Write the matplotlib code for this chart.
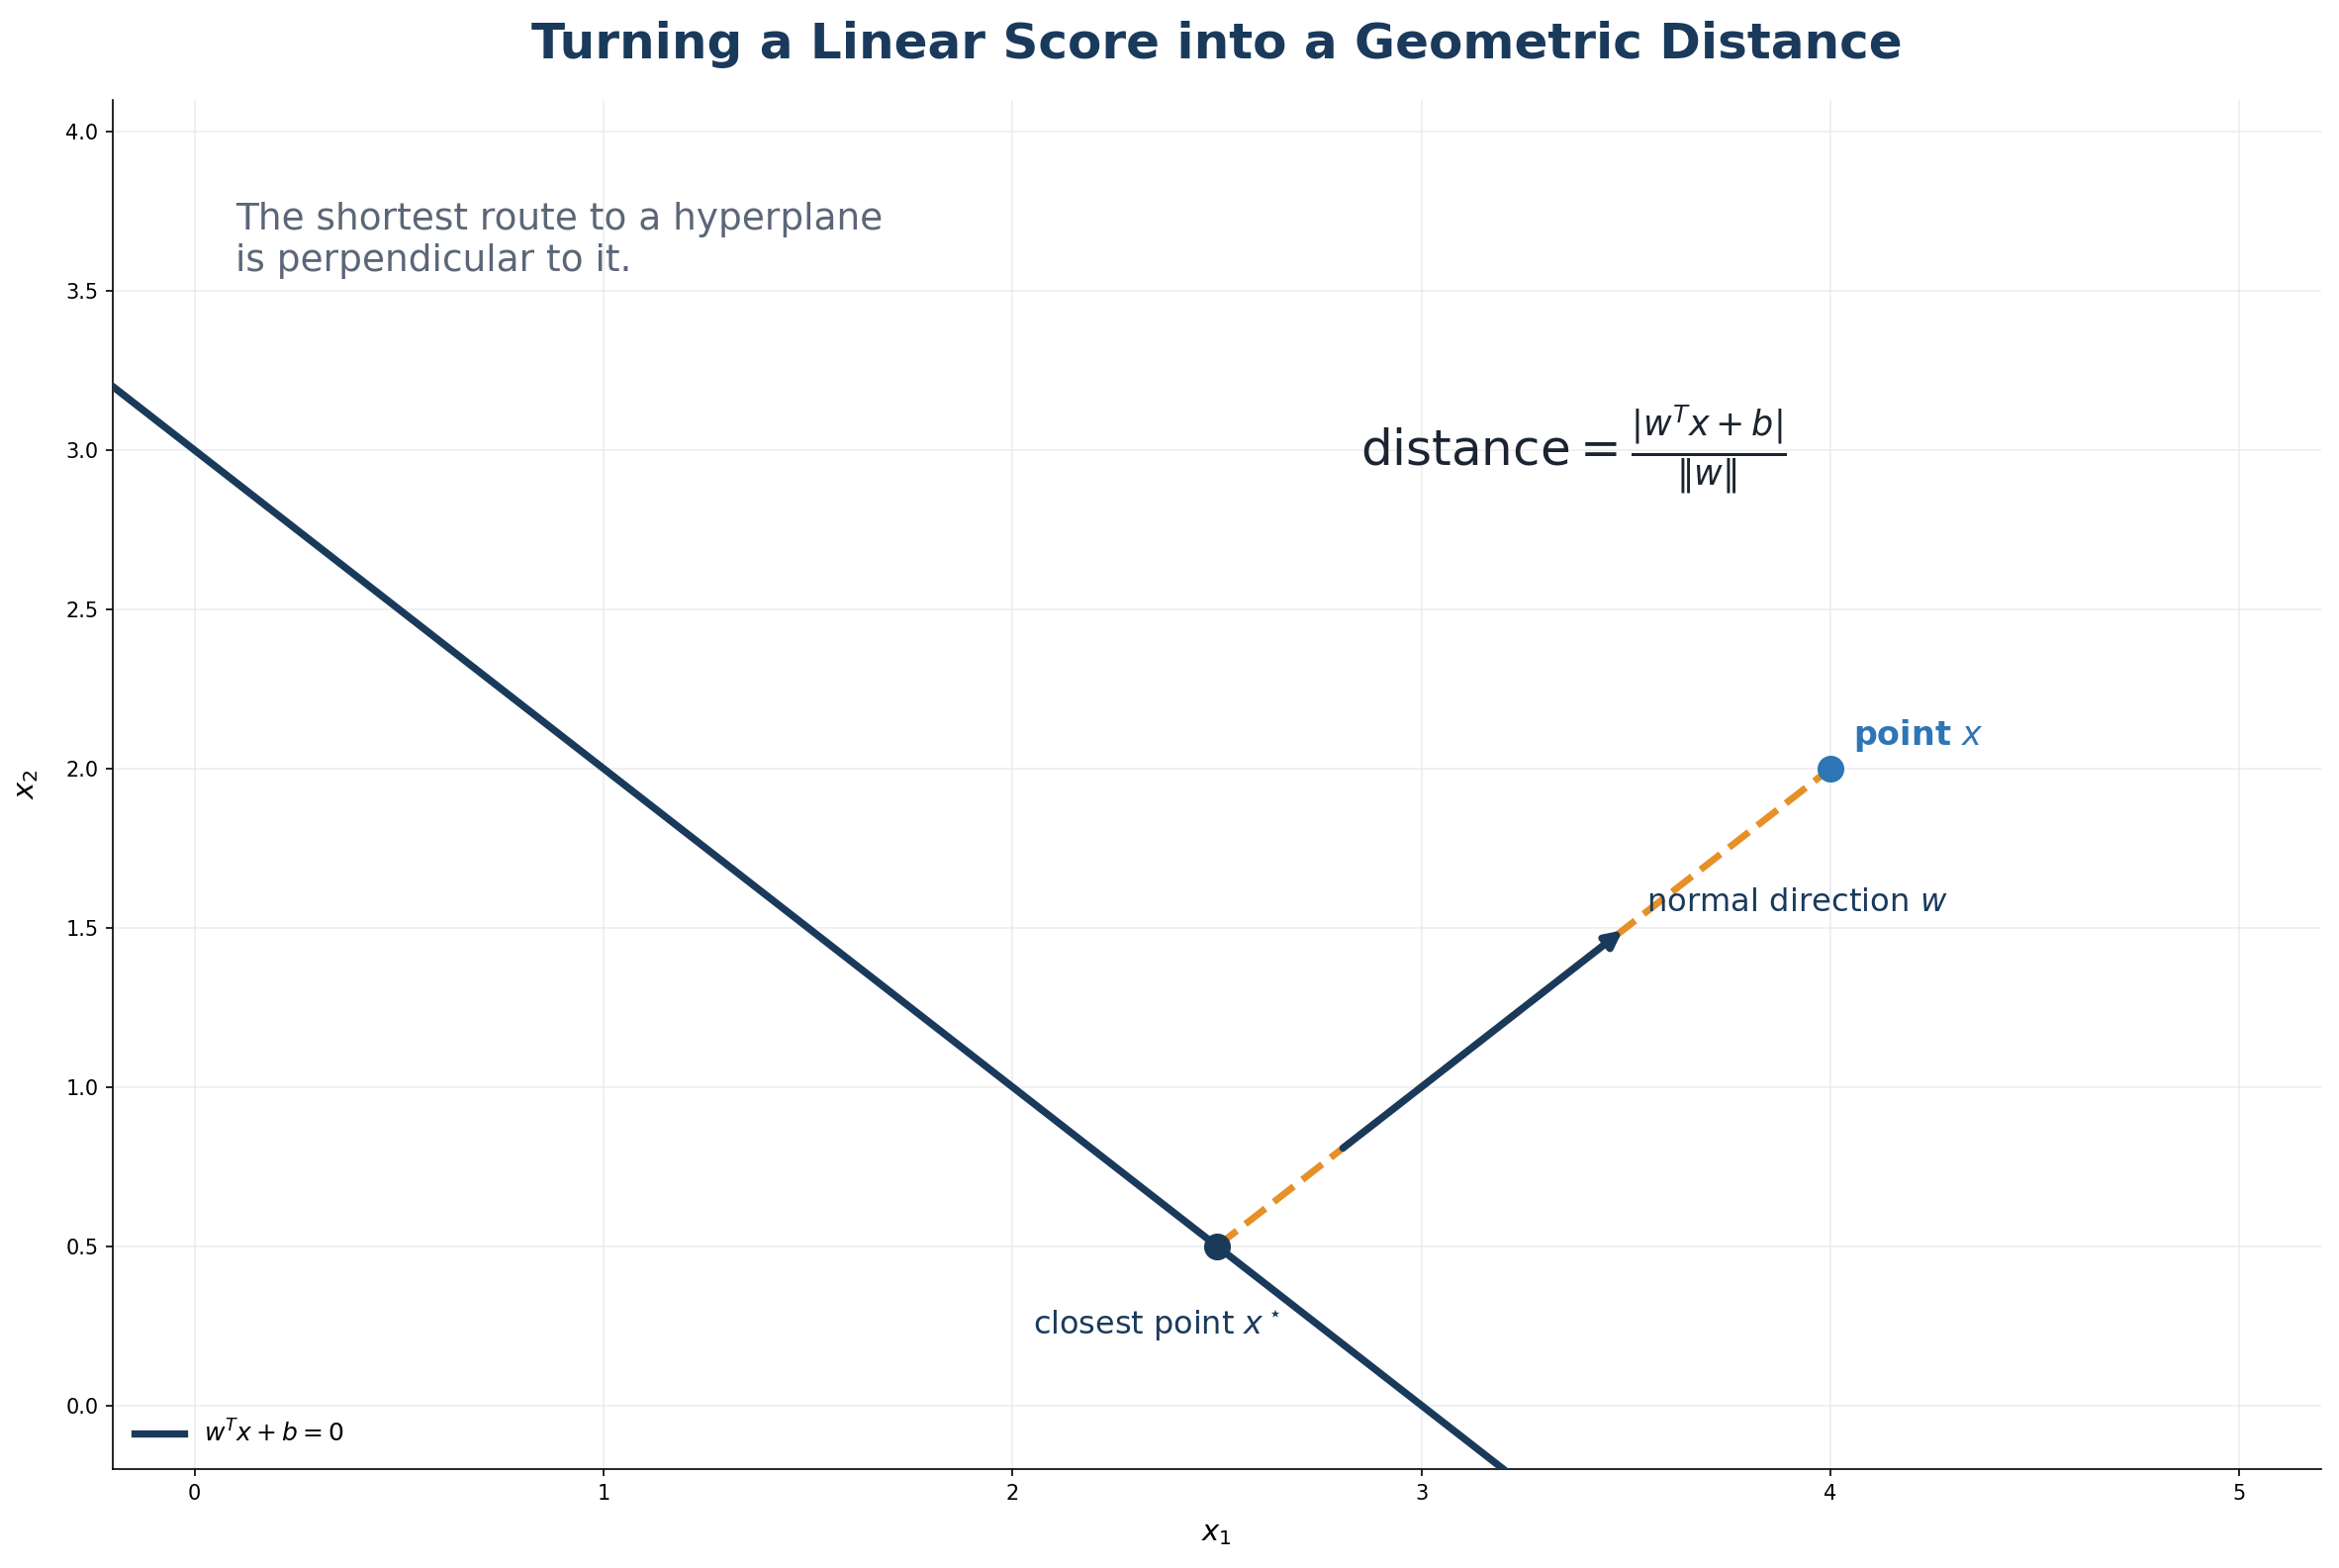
import numpy as np
import matplotlib
matplotlib.use("Agg")
import matplotlib.pyplot as plt

# Data
w = np.array([1.0, 1.0])
b = -3.0
line_x1 = [-0.2, 3.2]
point_x = [4.0, 2.0]
closest_point = [2.5, 0.5]
arrow_start = [2.8, 0.8]
arrow_end = [3.5, 1.5]
xlim = [-0.2, 5.2]
ylim = [-0.2, 4.1]

NAVY = "#1a3a5c"
ORANGE = "#e69027"
BLUE = "#2e75b6"
GRAY = "#5b6678"

fig = plt.figure(figsize=(2364/150, 1585/150), dpi=150)
ax = fig.add_axes([0.0482, 0.0631, 0.9442, 0.8732])

x1 = np.array(line_x1)
x2 = (-b - w[0]*x1) / w[1]
ax.plot(x1, x2, color=NAVY, lw=3.5, label=r"$w^Tx + b = 0$", zorder=3)

ax.plot([closest_point[0], point_x[0]], [closest_point[1], point_x[1]],
        color=ORANGE, lw=3.3, ls="--", zorder=3)

ax.annotate("", xy=arrow_end, xytext=arrow_start,
            arrowprops=dict(arrowstyle="-|>", color=NAVY, lw=3.5,
                            mutation_scale=16, capstyle="round"), zorder=4)

ax.plot([closest_point[0]], [closest_point[1]], "o", color=NAVY, ms=12, zorder=5)
ax.plot([point_x[0]], [point_x[1]], "o", color=BLUE, ms=12, zorder=5)

ax.text(4.055, 2.105, r"point $x$", color=BLUE, fontsize=16, fontweight="bold",
        va="center", ha="left")
ax.text(3.55, 1.58, r"normal direction $w$", color=NAVY, fontsize=15.5,
        va="center", ha="left")
ax.text(2.05, 0.25, r"closest point $x^\star$", color=NAVY, fontsize=15.3,
        va="center", ha="left")

ax.text(0.1, 3.78, "The shortest route to a hyperplane\nis perpendicular to it.",
        color=GRAY, fontsize=18, va="top", ha="left", linespacing=1.2)

ax.text(2.85, 3.0, r"distance$=\frac{|w^Tx+b|}{\|w\|}$", color="#1b2430",
        fontsize=24, va="center", ha="left")

ax.set_xlim(xlim)
ax.set_ylim(ylim)
ax.set_xlabel(r"$x_1$", fontsize=14, labelpad=8)
ax.set_ylabel(r"$x_2$", fontsize=14, labelpad=12)
ax.grid(True, color="#e6e6e6", lw=0.8, alpha=0.7)
ax.set_axisbelow(True)
for s in ["top", "right"]:
    ax.spines[s].set_visible(False)

ax.legend(loc="lower left", frameon=False, fontsize=12)
ax.set_title("Turning a Linear Score into a Geometric Distance", fontsize=24,
             fontweight="bold", color=NAVY, pad=20)

fig.savefig("out.png", dpi=150)
